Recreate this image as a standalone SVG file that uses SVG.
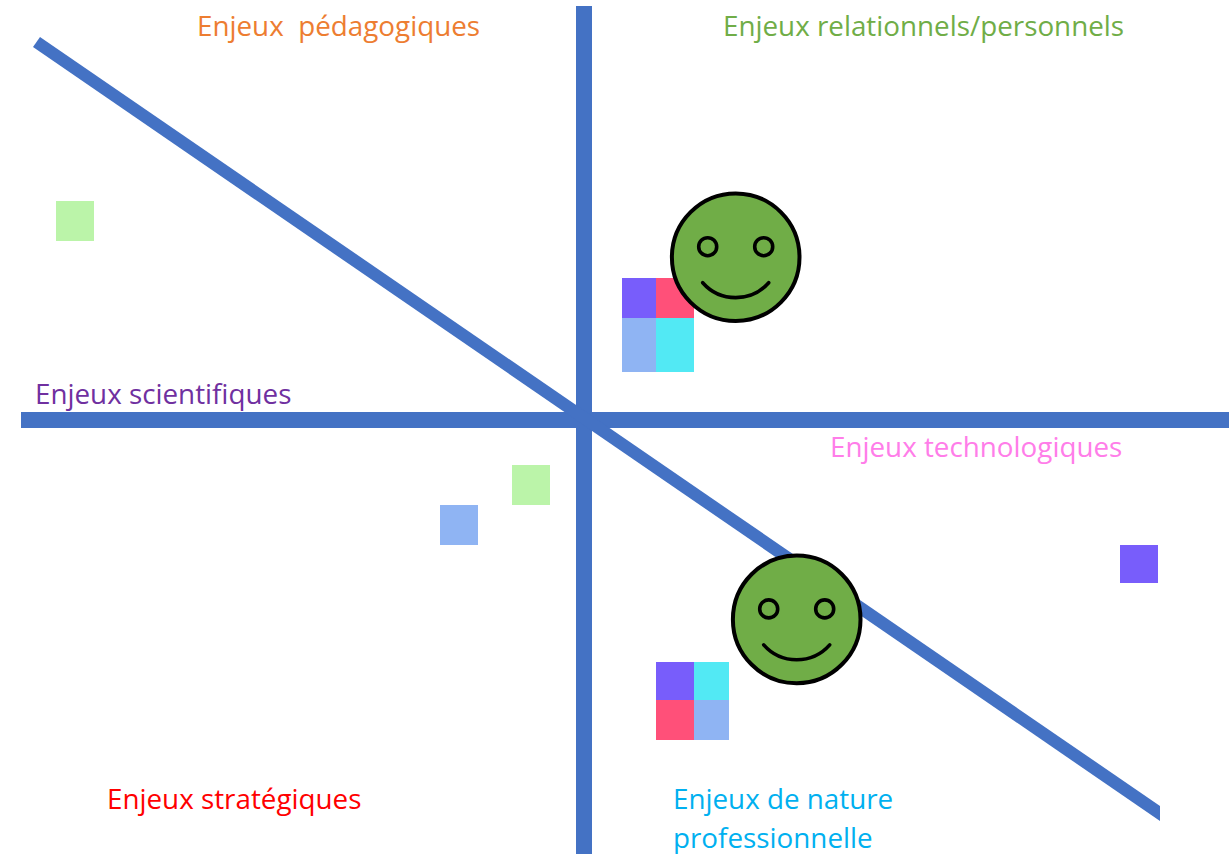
<svg xmlns="http://www.w3.org/2000/svg" width="1229" height="854" viewBox="0 0 1229 854">
<style>
text{font-family:"Open Sans","Noto Sans","Liberation Sans",sans-serif;font-size:27.8px}
.ax{stroke:#4472c4;stroke-width:16;fill:none}
.f{fill:#70ad47;stroke:#000;stroke-width:4}
.e{fill:none;stroke:#000;stroke-width:3.6;stroke-linecap:round}
</style>
<defs>
<g id="smiley">
<circle class="f" cx="0" cy="0" r="63.8"/>
<circle class="e" cx="-28" cy="-10.5" r="9"/>
<circle class="e" cx="28" cy="-10.5" r="9"/>
<path class="e" d="M-33 25.5A44 44 0 0 0 33 25.5"/>
</g>
</defs>
<rect width="1229" height="854" fill="#fff"/>
<g id="connectors">
<path class="ax" d="M584 6V854"/>
<path class="ax" d="M21 420H1229"/>
<polygon fill="#4472c4" points="40,37 1160,806 1160,821 33,47"/>
</g>
<g id="labels">
<text x="197" y="36" fill="#ed7d31" xml:space="preserve">Enjeux  pédagogiques</text>
<text x="723" y="36" fill="#70ad47">Enjeux relationnels/personnels</text>
<text x="35" y="404" fill="#7030a0">Enjeux scientifiques</text>
<text x="830" y="457" fill="#ff7de9">Enjeux technologiques</text>
<text x="107" y="809" fill="#ff0000">Enjeux stratégiques</text>
<text x="673" y="809" fill="#00b0f0">Enjeux de nature</text>
<text x="673" y="848" fill="#00b0f0">professionnelle</text>
</g>
<g id="squares">
<rect x="56" y="201" width="38" height="40" fill="#bbf4a9"/>
<rect x="512" y="465" width="38" height="40" fill="#bbf4a9"/>
<rect x="440" y="505" width="38" height="40" fill="#8fb4f3"/>
<rect x="1120" y="545" width="38" height="38" fill="#785dfb"/>
<rect x="622" y="278" width="34" height="40" fill="#785dfb"/>
<rect x="656" y="278" width="38" height="40" fill="#ff5079"/>
<rect x="622" y="318" width="34" height="54" fill="#8fb4f3"/>
<rect x="656" y="318" width="38" height="54" fill="#52e9f4"/>
<rect x="656" y="662" width="38" height="38" fill="#785dfb"/>
<rect x="694" y="662" width="35" height="38" fill="#52e9f4"/>
<rect x="656" y="700" width="38" height="40" fill="#ff5079"/>
<rect x="694" y="700" width="35" height="40" fill="#8fb4f3"/>
</g>
<g id="smiley1"><use href="#smiley" x="735.7" y="257.2"/></g>
<g id="smiley2"><use href="#smiley" x="796.7" y="619.4"/></g>
</svg>
